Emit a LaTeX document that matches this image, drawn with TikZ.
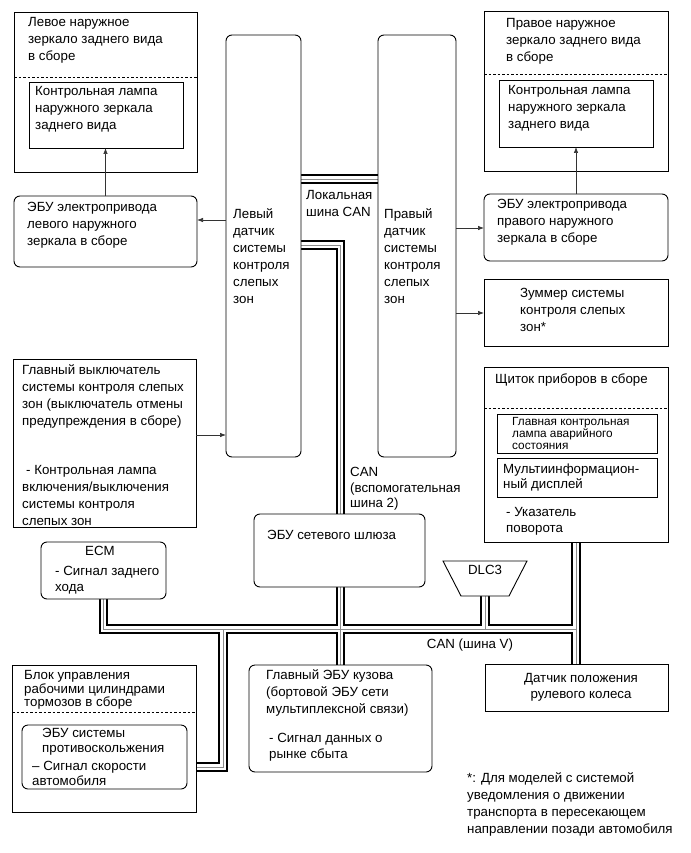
\documentclass[tikz,border=0pt]{standalone}
\usepackage{fontspec}
\setmainfont{Liberation Sans}
\usetikzlibrary{arrows.meta,backgrounds,calc}
\newcommand\busnet[1]{%
  \draw[#1] (ls.east |- 0,179) -- (rs.west |- 0,179);
  \draw[#1] (ls.east |- 0,245) -| (body.north);
  \draw[#1] (ecm.south) |- (jr);
  \draw[#1] (cl.south) -- (cl.south |- steer.north);
  \draw[#1] (dlc.south) -- (dlc.south |- jr);
  \draw[#1] (abs.east |- 0,767) -| (jb);
}
\begin{document}
\begin{tikzpicture}[x=1pt,y=-1pt,
  bx/.style={draw=black, line width=0.9pt, fill=white, anchor=north west, inner sep=0pt, outer sep=0pt},
  rbx/.style={bx, rounded corners=6pt},
  txt/.style={anchor=north west, inner sep=0pt, align=left, font=\fontsize{13.3}{17}\selectfont,
              execute at begin node={\rule{0pt}{10pt}}},
  arr/.style={draw=black!80, line width=0.7pt, -{Latex[length=6pt,width=4.5pt]}},
  dsh/.style={line width=0.9pt, dash pattern=on 2.5pt off 2pt},
]
\useasboundingbox (0,0) rectangle (690,853);
% boxes
\node[bx, minimum width=183pt, minimum height=160pt] (lm) at (14,12) {};
\node[bx, minimum width=154pt, minimum height=66pt] (llamp) at (29,82) {};
\node[rbx, minimum width=183pt, minimum height=71pt] (lecu) at (14,196) {};
\node[rbx, minimum width=75pt, minimum height=422pt] (ls) at (226,35) {};
\node[rbx, minimum width=78pt, minimum height=422pt] (rs) at (378,35) {};
\node[bx, minimum width=184pt, minimum height=160pt] (rm) at (484,11) {};
\node[bx, minimum width=154pt, minimum height=67pt] (rlamp) at (499,80) {};
\node[rbx, minimum width=184pt, minimum height=67pt] (recu) at (484,194) {};
\node[bx, minimum width=184pt, minimum height=67pt] (buzz) at (484,279) {};
\node[bx, minimum width=183pt, minimum height=168pt] (sw) at (13,359) {};
\node[rbx, minimum width=125pt, minimum height=57pt] (ecm) at (41,542) {};
\node[rbx, minimum width=171pt, minimum height=73pt] (gw) at (254,514) {};
\node[bx, minimum width=184pt, minimum height=175pt] (cl) at (484,367) {};
\node[bx, minimum width=160pt, minimum height=39pt] (cl1) at (497,414) {};
\node[bx, minimum width=160pt, minimum height=39pt] (cl2) at (497,458) {};
\node[anchor=north west, inner sep=0pt, outer sep=0pt, minimum width=84pt, minimum height=35pt] (dlc) at (443,561) {};
\draw[line width=0.9pt, fill=white] (dlc.north west) -- (dlc.north east) -- ($(dlc.south east)+(-18,0)$) -- ($(dlc.south west)+(18,0)$) -- cycle;
\node[rbx, minimum width=183pt, minimum height=107pt] (body) at (249,665) {};
\node[bx, minimum width=184pt, minimum height=147pt] (brake) at (12,665) {};
\node[rbx, minimum width=165pt, minimum height=64pt] (abs) at (22,725) {};
\node[bx, minimum width=183pt, minimum height=47pt] (steer) at (485,664) {};
\coordinate (jr) at (576,629);
\coordinate (jb) at (223,629);
% dashed separators
\draw[dsh] (lm.west |- 0,77) -- (lm.east |- 0,77);
\draw[dsh] (rm.west |- 0,74) -- (rm.east |- 0,74);
\draw[dsh] (cl.west |- 0,408) -- (cl.east |- 0,408);
\draw[dsh] (brake.west |- 0,712) -- (brake.east |- 0,712);
% arrows
\draw[arr] (lecu.north) -- (llamp.south -| lecu.north);
\draw[arr] (recu.north) -- (rlamp.south -| recu.north);
\draw[arr] (ls.west |- 0,220) -- (lecu.east |- 0,220);
\draw[arr] (rs.east |- 0,228) -- (recu.west |- 0,228);
\draw[arr] (rs.east |- 0,313) -- (buzz.west |- 0,313);
\draw[arr] (sw.east |- 0,435) -- (ls.west |- 0,435);
% bus lines
\begin{pgfonlayer}{background}
\fill[white] (0,0) rectangle (690,853);
\busnet{line width=9.5pt, black}
\busnet{line width=5.6pt, white}
\busnet{line width=0.7pt, black!45}
\end{pgfonlayer}
% texts (y = first baseline - 10)
\node[txt] (t_lm) at (28,17.5) {Левое наружное\\зеркало заднего вида\\в сборе};
\node[txt] (t_llamp) at (35,86) {Контрольная лампа\\наружного зеркала\\заднего вида};
\node[txt] (t_lecu) at (27,202.5) {ЭБУ электропривода\\левого наружного\\зеркала в сборе};
\node[txt] (t_ls) at (233,208.5) {Левый\\датчик\\системы\\контроля\\слепых\\зон};
\node[txt] (t_lcan) at (306,190.5) {Локальная\\шина CAN};
\node[txt] (t_rs) at (384,208.5) {Правый\\датчик\\системы\\контроля\\слепых\\зон};
\node[txt] (t_rm) at (506,18.5) {Правое наружное\\зеркало заднего вида\\в сборе};
\node[txt] (t_rlamp) at (508,85.5) {Контрольная лампа\\наружного зеркала\\заднего вида};
\node[txt] (t_recu) at (497,199.5) {ЭБУ электропривода\\правого наружного\\зеркала в сборе};
\node[txt] (t_buzz) at (520,288.5) {Зуммер системы\\контроля слепых\\зон*};
\node[txt] (t_sw1) at (22,364.5) {Главный выключатель\\системы контроля слепых\\зон (выключатель отмены\\предупреждения в сборе)};
\node[txt] (t_sw2) at (22,465.5) {\hspace{4pt}- Контрольная лампа\\включения/выключения\\системы контроля\\слепых зон};
\node[txt, anchor=north] (t_ecm) at (100,545.5) {ECM};
\node[txt, font=\fontsize{13.3}{16}\selectfont] (t_ecm2) at (55,566.5) {- Сигнал заднего\\хода};
\node[txt] (t_gw) at (267,529.5) {ЭБУ сетевого шлюза};
\node[txt, font=\fontsize{13.3}{15.5}\selectfont] (t_can2) at (350,467.5) {CAN\\(вспомогательная\\шина 2)};
\node[txt] (t_cl) at (495,373.5) {Щиток приборов в сборе};
\node[txt, font=\fontsize{11.8}{12.3}\selectfont] (t_cl1) at (512,417) {Главная контрольная\\лампа аварийного\\состояния};
\node[txt, font=\fontsize{13.3}{15}\selectfont] (t_cl2) at (503,463.5) {Мультиинформацион-\\ный дисплей};
\node[txt, font=\fontsize{13.3}{16}\selectfont] (t_cl3) at (506,507.5) {- Указатель\\поворота};
\node[txt, anchor=north] (t_dlc) at (485,564.5) {DLC3};
\node[txt, anchor=north] (t_canv) at (470,638.5) {CAN (шина V)};
\node[txt] (t_body1) at (266,669.5) {Главный ЭБУ кузова\\(бортовой ЭБУ сети\\мультиплексной связи)};
\node[txt, font=\fontsize{13.3}{16}\selectfont] (t_body2) at (269,733.5) {- Сигнал данных о\\рынке сбыта};
\node[txt, font=\fontsize{13.3}{13.5}\selectfont] (t_br) at (24,670.5) {Блок управления\\рабочими цилиндрами\\тормозов в сборе};
\node[txt, font=\fontsize{13.3}{15}\selectfont] (t_abs1) at (42,728.5) {ЭБУ системы\\противоскольжения};
\node[txt, font=\fontsize{13.3}{15}\selectfont] (t_abs2) at (32,761.5) {– Сигнал скорости\\автомобиля};
\node[txt, align=center, anchor=north, font=\fontsize{13.3}{15.5}\selectfont] (t_st) at (581,673.5) {Датчик положения\\рулевого колеса};
\node[txt] (t_fn) at (467,772.5) {*: Для моделей с системой\\уведомления о движении\\транспорта в пересекающем\\направлении позади автомобиля};
\end{tikzpicture}
\end{document}
